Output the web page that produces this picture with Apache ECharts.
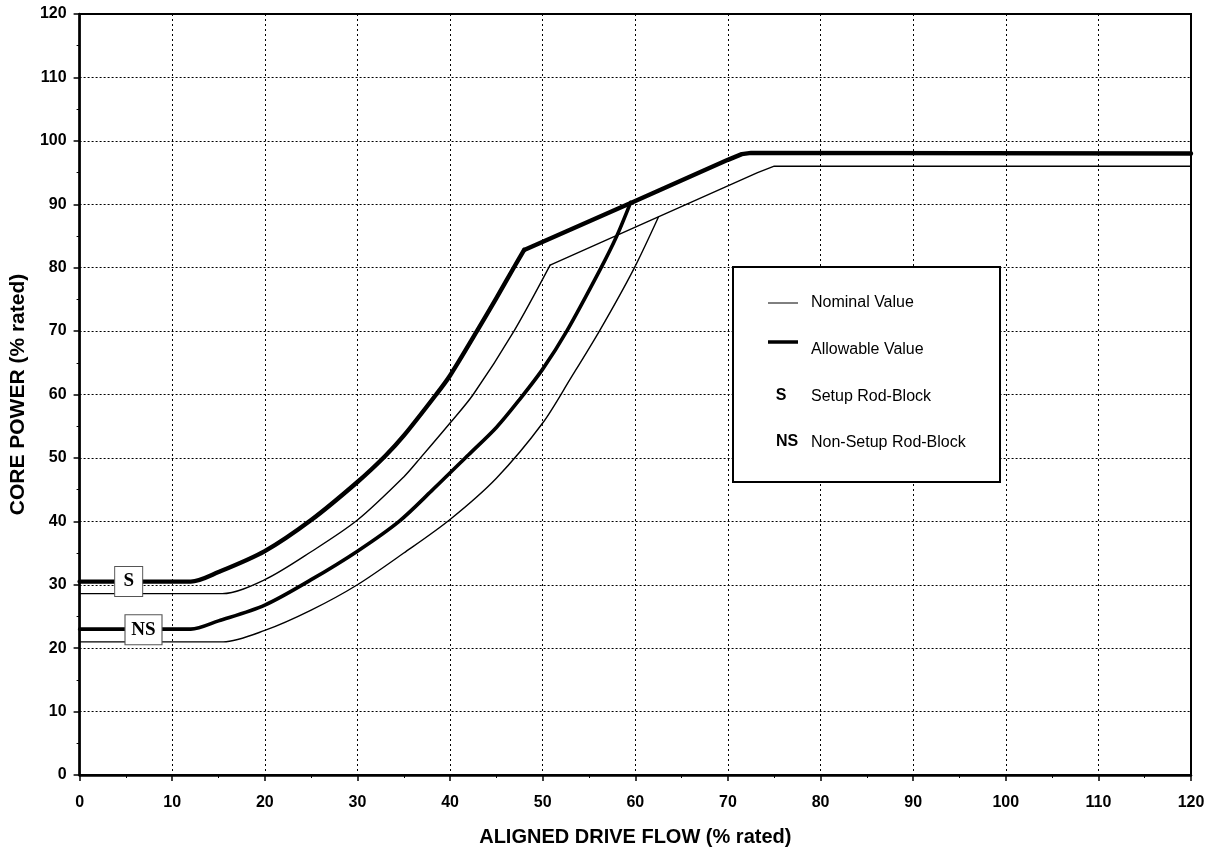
<!DOCTYPE html>
<html>
<head>
<meta charset="utf-8">
<script src="https://cdn.jsdelivr.net/npm/echarts@6/dist/echarts.min.js"></script>
<style>
html,body{margin:0;padding:0;background:#fff;}
#chart{width:1213px;height:853px;}
</style>
</head>
<body>
<div id="chart"></div>
<script>
// ---- Data ----
// Allowable value, Setup rod-block: curved part, then straight part from the knee
const allowableSetupCurve = [
  [0,30.5],[12,30.5],[15,32],[20,35.3],[25,40.2],[30,46.2],[33,50.3],[35,53.5],
  [38.5,60],[40,63],[42.9,70],[45,75.2],[47,80.3],[48,82.8]
];
const allowableSetupLine = [[48,82.8],[60,90.5],[70,97],[71.5,97.9],[72.5,98.1],[120,98]];
// Nominal value, Setup rod-block
const nominalSetupCurve = [
  [0,28.6],[15.4,28.6],[20,30.8],[25,35.2],[30,40.2],[35,47],[36.8,50],[40,55.5],
  [42.5,60],[46.9,70],[50.8,80.4]
];
const nominalSetupLine = [[50.8,80.4],[73.2,95],[75,96],[120,96]];
// Allowable value, Non-Setup rod-block
const allowableNonSetup = [
  [0,23],[12,23],[15,24.3],[20,26.8],[25,30.8],[30,35.3],[34.5,40],[38,44.8],
  [42,50.5],[45,54.8],[47.5,59.2],[50,64],[52.6,70],[56.2,79.7],[58,85],[59.5,90.3]
];
// Nominal value, Non-Setup rod-block
const nominalNonSetup = [
  [0,21],[15.5,21],[20,22.8],[25,26],[30,30],[35,35],[40,40.3],[45,46.8],
  [50,55.5],[53,62.5],[56.2,70.2],[59.8,79.7],[62.5,88]
];
const rodBlockTags = ['S','NS'];
const rodBlockAnchors = [[5.3,30.5],[6.9,22.9]];
const legendItems = ['Nominal Value','Allowable Value','Setup Rod-Block','Non-Setup Rod-Block'];
const legendKeys = ['S','NS'];

const chart = echarts.init(document.getElementById('chart'));
const SANS = 'Liberation Sans, Arial, sans-serif';
const SERIF = 'Liberation Serif, Times New Roman, serif';

function lineSeries(name, data, width, smooth){
  return {
    name: name, type: 'line', data: data, showSymbol: false, symbol: 'none',
    smooth: smooth ? 0.3 : false,
    lineStyle: {color:'#000', width: width, cap:'round', join:'round'},
    itemStyle: {color:'#000'}, z: width > 2 ? 4 : 3, silent: true, animation: false
  };
}

const option = {
  animation: false,
  backgroundColor: '#fff',
  grid: {left: 79, right: 22, top: 14, bottom: 78, show: true, borderColor: '#000', borderWidth: 2},
  xAxis: {
    type: 'value', min: 0, max: 120, interval: 10,
    name: 'ALIGNED DRIVE FLOW (% rated)', nameLocation: 'middle', nameGap: 52,
    nameTextStyle: {fontFamily: SANS, fontWeight: 'bold', fontSize: 20, color: '#000'},
    axisLine: {show: true, lineStyle: {color: '#000', width: 2.5}},
    axisTick: {show: true, length: 6, lineStyle: {color: '#000', width: 1.5}},
    minorTick: {show: true, splitNumber: 2, length: 3, lineStyle:{color:'#000'}},
    axisLabel: {fontFamily: SANS, fontWeight: 'bold', fontSize: 16, color: '#000', margin: 20},
    splitLine: {show: true, lineStyle: {color: '#000', width: 1, type: [2, 3]}}
  },
  yAxis: {
    type: 'value', min: 0, max: 120, interval: 10,
    name: 'CORE POWER (% rated)', nameLocation: 'middle', nameGap: 44,
    nameTextStyle: {fontFamily: SANS, fontWeight: 'bold', fontSize: 21, color: '#000'},
    axisLine: {show: true, lineStyle: {color: '#000', width: 2.5}},
    axisTick: {show: true, length: 6, lineStyle: {color: '#000', width: 1.5}},
    minorTick: {show: true, splitNumber: 2, length: 3, lineStyle:{color:'#000'}},
    axisLabel: {fontFamily: SANS, fontWeight: 'bold', fontSize: 16, color: '#000', margin: 13},
    splitLine: {show: true, lineStyle: {color: '#000', width: 1, type: [2, 2]}}
  },
  series: [
    lineSeries('Nominal Value', nominalSetupCurve, 1.4, true),
    lineSeries('Nominal Value', nominalSetupLine, 1.4, false),
    lineSeries('Nominal Value', nominalNonSetup, 1.4, true),
    lineSeries('Allowable Value', allowableSetupCurve, 4.4, true),
    lineSeries('Allowable Value', allowableSetupLine, 4.4, false),
    lineSeries('Allowable Value', allowableNonSetup, 3.6, true),
    {
      name: 'tags', type: 'scatter', symbol: 'rect', silent: true, z: 10,
      data: rodBlockTags.map((t, i) => ({
        value: rodBlockAnchors[i], name: t,
        symbolSize: t === 'S' ? [28, 30] : [37, 30]
      })),
      itemStyle: {color: '#fff', borderColor: '#555', borderWidth: 1, opacity: 1},
      label: {show: true, position: 'inside', formatter: p => p.name,
        fontFamily: SERIF, fontWeight: 'bold', fontSize: 19, color: '#000'}
    }
  ],
  graphic: [
    {type: 'rect', z: 100, shape: {x: 733, y: 267, width: 267, height: 215},
      style: {fill: '#fff', stroke: '#000', lineWidth: 2}},
    {type: 'line', z: 101, shape: {x1: 768, y1: 303, x2: 798, y2: 303}, style: {stroke: '#000', lineWidth: 1}},
    {type: 'line', z: 101, shape: {x1: 768, y1: 342, x2: 798, y2: 342}, style: {stroke: '#000', lineWidth: 3.5}},
    {type: 'text', z: 101, x: 811, y: 303, style: {text: legendItems[0], font: '16px ' + SANS, fill: '#000', verticalAlign: 'middle'}},
    {type: 'text', z: 101, x: 811, y: 350, style: {text: legendItems[1], font: '16px ' + SANS, fill: '#000', verticalAlign: 'middle'}},
    {type: 'text', z: 101, x: 781, y: 396, style: {text: legendKeys[0], font: 'bold 16px ' + SANS, fill: '#000', align: 'center', verticalAlign: 'middle'}},
    {type: 'text', z: 101, x: 811, y: 397, style: {text: legendItems[2], font: '16px ' + SANS, fill: '#000', verticalAlign: 'middle'}},
    {type: 'text', z: 101, x: 787, y: 442, style: {text: legendKeys[1], font: 'bold 16px ' + SANS, fill: '#000', align: 'center', verticalAlign: 'middle'}},
    {type: 'text', z: 101, x: 811, y: 443, style: {text: legendItems[3], font: '16px ' + SANS, fill: '#000', verticalAlign: 'middle'}}
  ]
};
chart.setOption(option);
</script>
</body>
</html>
